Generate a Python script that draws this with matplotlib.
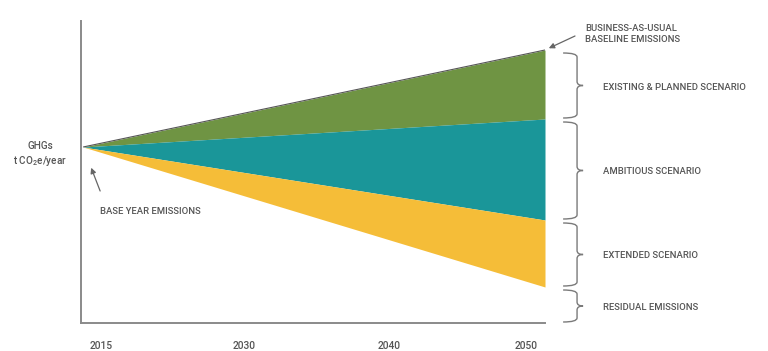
import matplotlib
matplotlib.use("Agg")
import matplotlib.pyplot as plt
from matplotlib.path import Path
from matplotlib.patches import PathPatch
from matplotlib.transforms import blended_transform_factory

### data
years = [2015, 2050]
bau = [176, 273]          # business-as-usual baseline
existing = [176, 204]     # existing & planned scenario floor
ambitious = [176, 103]    # ambitious scenario floor
extended = [176, 36]      # extended scenario floor
residual_floor = 0

tick_labels = ["2015", "2030", "2040", "2050"]
tick_pos = [2016.4, 2027.2, 2038.2, 2048.6]

bands = [  # (label, upper, lower)
    ("EXISTING & PLANNED SCENARIO", bau[1], existing[1]),
    ("AMBITIOUS SCENARIO", existing[1], ambitious[1]),
    ("EXTENDED SCENARIO", ambitious[1], extended[1]),
    ("RESIDUAL EMISSIONS", extended[1], residual_floor),
]

c_green = "#6f9443"
c_teal = "#1a9699"
c_yellow = "#f5bd38"
c_text = "#555555"
c_axis = "#8a8a8a"

### font
fam = "Roboto"
plt.rcParams["font.family"] = [fam, "Liberation Sans", "DejaVu Sans"]
plt.rcParams["font.weight"] = "medium"
plt.rcParams["mathtext.fontset"] = "custom"
plt.rcParams["mathtext.rm"] = fam + ":medium"
plt.rcParams["mathtext.it"] = fam + ":medium"
fs = 6.8

fig = plt.figure(figsize=(7.68, 3.51), dpi=100)
ax = fig.add_axes([80.5 / 768, 28 / 351, 464.5 / 768, 302 / 351])
ax.set_xlim(2014.8, 2050)
ax.set_ylim(0, 302)

ax.fill_between(years, existing, bau, color=c_green, lw=0)
ax.fill_between(years, ambitious, existing, color=c_teal, lw=0)
ax.fill_between(years, extended, ambitious, color=c_yellow, lw=0)
ax.plot(years, bau, color="#555555", lw=0.8, solid_capstyle="butt")

for s in ["top", "right"]:
    ax.spines[s].set_visible(False)
for s in ["left", "bottom"]:
    ax.spines[s].set_color(c_axis)
    ax.spines[s].set_linewidth(1.4)
ax.set_yticks([])
ax.set_xticks(tick_pos)
ax.set_xticklabels(tick_labels, color=c_text, fontsize=7.4)
ax.tick_params(axis="x", length=0, pad=13)

# braces on the right
tr = blended_transform_factory(ax.transAxes, ax.transData)
x0, x1, x2 = 1.039, 1.069, 1.082
for label, top, bot in bands:
    top -= 3
    bot += 1
    mid = (top + bot) / 2
    ry = 4
    verts = [
        (x0, top), (x1, top), (x1, top - ry),
        (x1, mid + ry), (x1, mid), (x2, mid),
        (x1, mid), (x1, mid - ry),
        (x1, bot + ry), (x1, bot), (x0, bot),
    ]
    codes = [Path.MOVETO, Path.CURVE3, Path.CURVE3,
             Path.LINETO, Path.CURVE3, Path.CURVE3,
             Path.CURVE3, Path.CURVE3,
             Path.LINETO, Path.CURVE3, Path.CURVE3]
    ax.add_patch(PathPatch(Path(verts, codes), transform=tr, fill=False,
                           ec="#7a7a7a", lw=1.0, clip_on=False))
    ax.text(1.125, mid - 1.5, label, transform=tr, ha="left", va="center",
            color=c_text, fontsize=fs, clip_on=False)

# business-as-usual annotation
ax.annotate("", xy=(years[1], bau[1]), xytext=(30, 14),
            xycoords="data", textcoords="offset pixels",
            arrowprops=dict(arrowstyle="-|>", color="#666666", lw=0.9,
                            mutation_scale=8, shrinkA=0, shrinkB=3),
            annotation_clip=False)
ax.annotate("BUSINESS-AS-USUAL\nBASELINE EMISSIONS", xy=(years[1], bau[1]),
            xytext=(40, 16), textcoords="offset pixels", ha="left", va="center",
            color=c_text, fontsize=fs, linespacing=1.4, annotation_clip=False)

# base year annotation
ax.annotate("", xy=(years[0], bau[0]), xytext=(17, -44),
            xycoords="data", textcoords="offset pixels",
            arrowprops=dict(arrowstyle="-|>", color="#666666", lw=0.9,
                            mutation_scale=8, shrinkA=0, shrinkB=16),
            annotation_clip=False)
ax.annotate("BASE YEAR EMISSIONS", xy=(years[0], bau[0]), xytext=(17, -64),
            textcoords="offset pixels", ha="left", va="center",
            color=c_text, fontsize=fs, annotation_clip=False)

# y label
ax.annotate("GHGs", xy=(years[0], bau[0]), xytext=(-43, 1),
            textcoords="offset pixels", ha="center", va="center",
            color=c_text, fontsize=fs + 0.4, annotation_clip=False)
ax.annotate("t CO$_2$e/year", xy=(years[0], bau[0]), xytext=(-43, -14),
            textcoords="offset pixels", ha="center", va="center",
            color=c_text, fontsize=fs + 0.4, annotation_clip=False)

fig.savefig("out.png", dpi=100)
